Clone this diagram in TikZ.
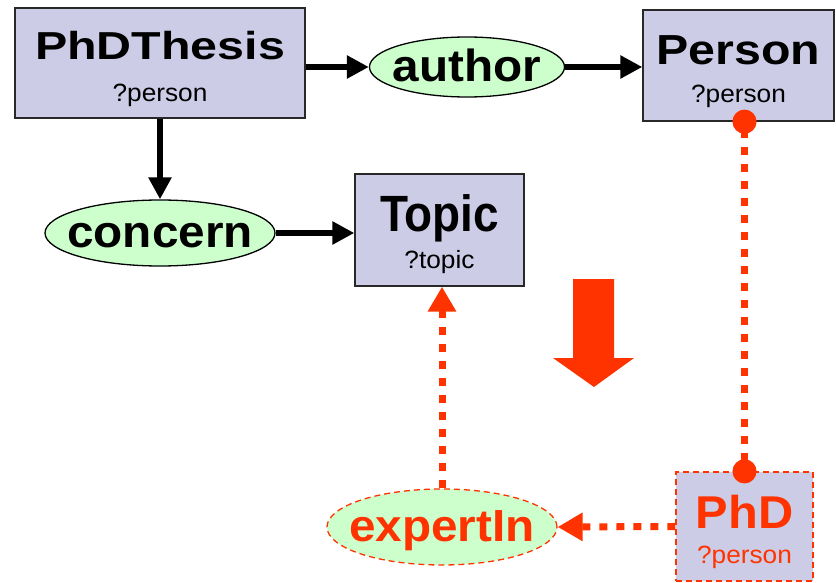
\documentclass[tikz,border=0pt]{standalone}
\usepackage{graphicx}
\usepackage{fontspec}
\setmainfont{Liberation Sans}
\usetikzlibrary{positioning, shapes, arrows.meta, calc}
\definecolor{boxfill}{RGB}{204,204,230}
\definecolor{propfill}{RGB}{204,255,204}
\definecolor{newred}{RGB}{255,51,0}
\definecolor{boxline}{RGB}{40,40,40}
% size, horizontal stretch, text
\newcommand{\clsname}[3]{\scalebox{#2}[1]{\fontsize{#1}{#1}\bfseries\selectfont #3}}
\newcommand{\varname}[1]{\scalebox{1.05}[1]{\fontsize{25}{25}\selectfont #1}}
\newcommand{\propname}[1]{\makebox[0pt]{\scalebox{1.06}[1]{\fontsize{45}{45}\bfseries\selectfont #1}}}

\begin{document}
\begin{tikzpicture}[x=1pt, y=-1pt,
    cls/.style={rectangle, draw=boxline, line width=1.3pt, fill=boxfill, inner sep=0pt},
    newcls/.style={cls, draw=newred, dash pattern=on 6pt off 4pt},
    prop/.style={ellipse, draw=black, line width=1.3pt, fill=propfill, inner sep=0pt,
      text height=29pt, text depth=0pt},
    newprop/.style={prop, draw=newred, text=newred, dash pattern=on 6pt off 4pt},
    txt/.style={anchor=base, inner sep=0pt},
    link/.style={line width=6pt, -{Triangle[length=22pt, width=22pt]}},
    redlink/.style={newred, line width=7pt, dash pattern=on 8pt off 9pt,
      -{Triangle[length=25pt, width=27pt]}},
    samelink/.style={newred, line width=7pt, dash pattern=on 8pt off 9pt,
      {Circle[length=24pt]}-{Circle[length=24pt]}, shorten <=-12pt, shorten >=-12pt}]
  \useasboundingbox (0,0) rectangle (836,583);

  % Boxes
  \node[cls, minimum width=290pt, minimum height=110pt] (thesis) at (160,63) {};
  \node[cls, minimum width=191pt, minimum height=111pt] (person) at (738.5,65.5) {};
  \node[cls, minimum width=169pt, minimum height=112pt] (topic) at (439.5,230) {};
  \node[newcls, minimum width=137pt, minimum height=109pt] (phd) at (744.5,526.5) {};

  % Box texts
  \node[txt] (thesis-name) at ($(thesis.center)+(0,-3.5)$) {\clsname{39}{1.24}{PhDThesis}};
  \node[txt] (thesis-var) at ($(thesis.center)+(0,39)$) {\varname{?person}};
  \node[txt] (person-name) at ($(person.center)+(0,-0.5)$) {\clsname{42}{1.15}{Person}};
  \node[txt] (person-var) at ($(person.center)+(0,37.5)$) {\varname{?person}};
  \node[txt] (topic-name) at ($(topic.center)+(0,2)$) {\clsname{51}{0.9}{Topic}};
  \node[txt] (topic-var) at ($(topic.center)+(0,38)$) {\varname{?topic}};
  \node[txt, text=newred] (phd-name) at ($(phd.center)+(0,1.5)$) {\clsname{46}{1.06}{PhD}};
  \node[txt, text=newred] (phd-var) at ($(phd.center)+(0,36.5)$) {\varname{?person}};

  % Properties
  \node[prop, minimum width=195pt, minimum height=60pt] (author) at (467,67) {\propname{author}};
  \node[prop, minimum width=230pt, minimum height=66pt] (concern) at (160,233) {\propname{concern}};
  \node[newprop, minimum width=230pt, minimum height=76pt] (expertin) at (442,527) {\propname{expertIn}};

  % Arrows
  \draw[link] (author.west -| thesis.east) -- (author.west);
  \draw[link] (author.east) -- (author.east -| person.west);
  \draw[link] (thesis.south) -- (concern.north);
  \draw[link] (concern.east) -- (concern.east -| topic.west);
  \draw[samelink] (phd.north |- person.south) -- (phd.north);
  \draw[redlink] (phd.west) -- (expertin.east);
  \draw[redlink] (expertin.north) -- (expertin.north |- topic.south);

  % Rewrite arrow
  \fill[newred] (573,279) -- (614,279) -- (614,358) -- (634,358) -- (594,387)
    -- (553,358) -- (573,358) -- cycle;
\end{tikzpicture}
\end{document}
